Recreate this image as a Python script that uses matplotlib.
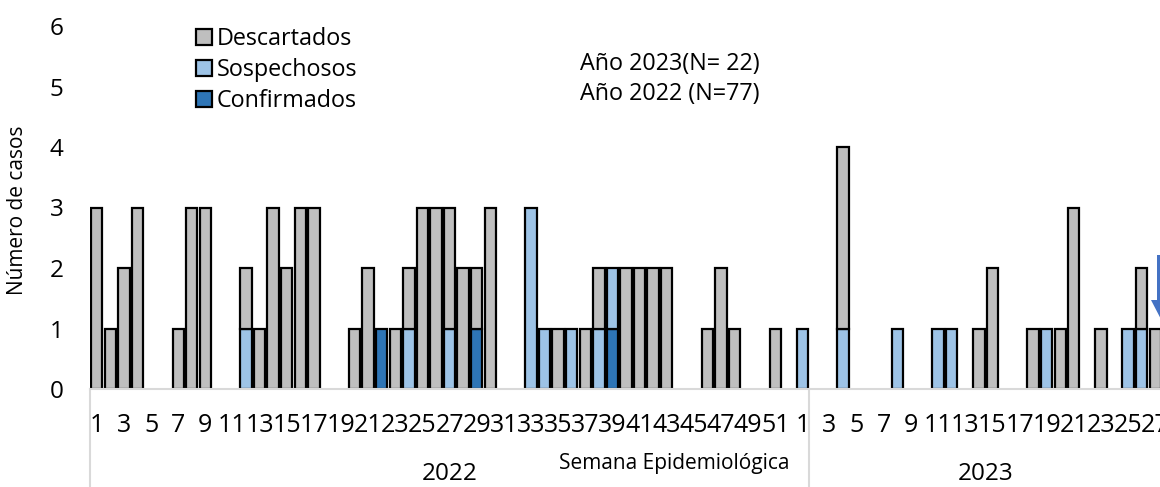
import numpy as np
import matplotlib.pyplot as plt
from matplotlib.patches import Polygon
from matplotlib.transforms import blended_transform_factory

plt.rcParams['font.family'] = ['Open Sans', 'DejaVu Sans']

# weekly counts, 2022 (weeks 1-52) and 2023 (weeks 1-27)
desc_2022 = [3, 1, 2, 3, 0, 0, 1, 3, 3, 0, 0, 1, 1, 3, 2, 3, 3, 0, 0, 1,
             2, 0, 1, 1, 3, 3, 2, 2, 1, 3, 0, 0, 0, 0, 1, 0, 1, 1, 0, 2,
             2, 2, 2, 0, 0, 1, 2, 1, 0, 0, 1, 0]
sosp_2022 = [0, 0, 0, 0, 0, 0, 0, 0, 0, 0, 0, 1, 0, 0, 0, 0, 0, 0, 0, 0,
             0, 0, 0, 1, 0, 0, 1, 0, 0, 0, 0, 0, 3, 1, 0, 1, 0, 1, 1, 0,
             0, 0, 0, 0, 0, 0, 0, 0, 0, 0, 0, 0]
conf_2022 = [0, 0, 0, 0, 0, 0, 0, 0, 0, 0, 0, 0, 0, 0, 0, 0, 0, 0, 0, 0,
             0, 1, 0, 0, 0, 0, 0, 0, 1, 0, 0, 0, 0, 0, 0, 0, 0, 0, 1, 0,
             0, 0, 0, 0, 0, 0, 0, 0, 0, 0, 0, 0]

desc_2023 = [0, 0, 0, 3, 0, 0, 0, 0, 0, 0, 0, 0, 0, 1, 2, 0, 0, 1, 0, 1,
             3, 0, 1, 0, 0, 1, 1]
sosp_2023 = [1, 0, 0, 1, 0, 0, 0, 1, 0, 0, 1, 1, 0, 0, 0, 0, 0, 0, 1, 0,
             0, 0, 0, 0, 1, 1, 0]
conf_2023 = [0] * 27

weeks_2022 = list(range(1, 53))
weeks_2023 = list(range(1, 28))
# the chart's first group also holds week 1 of 2023
groups = [('2022', 53), ('2023', 26)]

desc = np.array(desc_2022 + desc_2023)
sosp = np.array(sosp_2022 + sosp_2023)
conf = np.array(conf_2022 + conf_2023)
labels = [str(w) for w in weeks_2022 + weeks_2023]
x = np.arange(len(labels))

W, H = 1160, 487
fig = plt.figure(figsize=(W / 100, H / 100), dpi=100)
ax = fig.add_axes([90 / W, 98 / H, 1072 / W, 363 / H])

kw = dict(width=0.84, edgecolor='black', linewidth=1.6)
handles = []
bottom = np.zeros(len(x))
for vals, col in [(conf, '#2E75B6'), (sosp, '#9DC3E6'), (desc, '#BFBFBF')]:
    m = vals > 0  # empty weeks get no outline
    handles.append(ax.bar(x[m], vals[m], bottom=bottom[m], color=col, **kw))
    bottom = bottom + vals
b_conf, b_sosp, b_desc = handles

ax.set_xlim(-0.5, len(labels) - 0.5)
ax.set_ylim(0, 6)
ax.set_yticks(range(0, 7))
ax.tick_params(axis='y', length=0, pad=19, labelsize=17.5)
ax.set_xticks(x)
ax.set_xticklabels([l if i % 2 == 0 else '' for i, l in enumerate(labels)])
ax.tick_params(axis='x', length=0, pad=17, labelsize=18)

for s in ['top', 'right', 'left']:
    ax.spines[s].set_visible(False)
ax.spines['bottom'].set_color('#D9D9D9')
ax.spines['bottom'].set_linewidth(1.5)

# year groups under the week labels
tr = blended_transform_factory(ax.transData, ax.transAxes)
start = -0.5
ax.plot([start, start], [0, -0.28], color='#D9D9D9', lw=1.5, transform=tr, clip_on=False)
for name, n in groups:
    end = start + n
    ax.plot([end, end], [0, -0.28], color='#D9D9D9', lw=1.5, transform=tr, clip_on=False)
    ax.text((start + end) / 2, -0.235, name, transform=tr, ha='center', va='center', fontsize=17.5)
    start = end

fig.text(674 / W, 1 - 464 / H, 'Semana Epidemiológica', ha='center', va='center', fontsize=15)
fig.text(18 / W, 1 - 210 / H, 'Número de casos', rotation=90, ha='center', va='center', fontsize=15)

ax.legend([b_desc, b_sosp, b_conf], ['Descartados', 'Sospechosos', 'Confirmados'],
          loc='upper left', bbox_to_anchor=(196 / W, 1 - 27 / H), bbox_transform=fig.transFigure,
          frameon=False, fontsize=16.8, handlelength=0.7, handleheight=0.7,
          handletextpad=0.2, labelspacing=0.3, borderpad=0, borderaxespad=0)

fig.text(580 / W, 1 - 64 / H, 'Año 2023(N= 22)', ha='left', va='center', fontsize=16.8)
fig.text(580 / W, 1 - 94 / H, 'Año 2022 (N=77)', ha='left', va='center', fontsize=16.8)

# blue down arrow at the right edge
pts = [(1157, 255), (1173, 255), (1173, 300), (1179, 300), (1165, 327),
       (1151, 300), (1157, 300)]
arrow = Polygon([(px / W, 1 - py / H) for px, py in pts], closed=True,
                transform=fig.transFigure, facecolor='#4472C4', edgecolor='none')
fig.patches.append(arrow)

fig.savefig('out.png', dpi=100)
